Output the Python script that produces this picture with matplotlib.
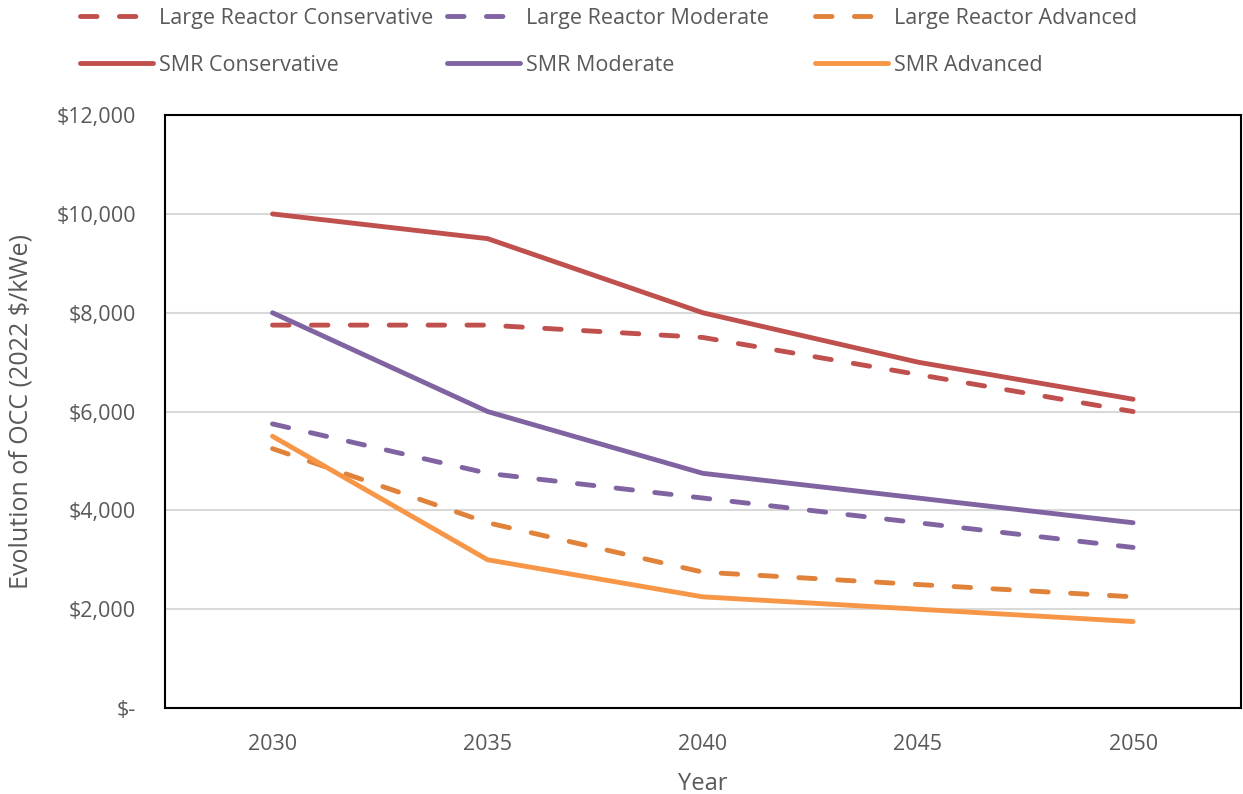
import matplotlib.pyplot as plt
from matplotlib.ticker import FuncFormatter

plt.rcParams['font.family'] = ['Open Sans', 'DejaVu Sans']

years = [2030, 2035, 2040, 2045, 2050]
lr_conservative = [7750, 7750, 7500, 6750, 6000]
lr_moderate = [5750, 4750, 4250, 3750, 3250]
lr_advanced = [5250, 3750, 2750, 2500, 2250]
smr_conservative = [10000, 9500, 8000, 7000, 6250]
smr_moderate = [8000, 6000, 4750, 4250, 3750]
smr_advanced = [5500, 3000, 2250, 2000, 1750]

red = "#C0504D"
purple = "#8064A2"
dark_orange = "#E0823A"
orange = "#F79646"
grey = "#595959"

fig = plt.figure(figsize=(12.43, 7.94), dpi=100)
ax = fig.add_axes([0.1327, 0.1083, 0.8654, 0.7467])

dash = (0, (3.4, 4.6))
lw = 3.5
kw = dict(lw=lw, dash_capstyle='round', solid_capstyle='round', solid_joinstyle='round')
l1, = ax.plot(years, lr_conservative, color=red, ls=dash, label="Large Reactor Conservative", **kw)
l2, = ax.plot(years, lr_moderate, color=purple, ls=dash, label="Large Reactor Moderate", **kw)
l3, = ax.plot(years, lr_advanced, color=dark_orange, ls=dash, label="Large Reactor Advanced", **kw)
l4, = ax.plot(years, smr_conservative, color=red, label="SMR Conservative", **kw)
l5, = ax.plot(years, smr_moderate, color=purple, label="SMR Moderate", **kw)
l6, = ax.plot(years, smr_advanced, color=orange, label="SMR Advanced", **kw)

ax.set_xlim(2027.5, 2052.5)
ax.set_ylim(0, 12000)
ax.set_xticks(years)
ax.set_yticks(range(0, 12001, 2000))
ax.yaxis.set_major_formatter(FuncFormatter(lambda v, p: "$-" if v == 0 else "${:,.0f}".format(v)))
ax.tick_params(length=0, labelsize=15.5, labelcolor=grey)
ax.tick_params(axis='y', pad=21)
ax.tick_params(axis='x', pad=19)
ax.grid(axis='y', color="#D9D9D9", lw=1.5)
ax.set_axisbelow(True)
for s in ax.spines.values():
    s.set_color("black")
    s.set_linewidth(1.5)

ax.set_ylabel("Evolution of OCC (2022 $/kWe)", fontsize=18, color=grey)
ax.yaxis.set_label_coords(-0.122, 0.5)
ax.set_xlabel("Year", fontsize=17, color=grey, labelpad=12)

# one legend per column so the columns sit where they do in the original
cols = [(l1, l4), (l2, l5), (l3, l6)]
xs = [80, 447, 815]
for (a, b), x in zip(cols, xs):
    fig.legend([a, b], [a.get_label(), b.get_label()], loc='upper left',
               bbox_to_anchor=(x / 1243, 1 - 8 / 794), frameon=False,
               fontsize=15.5, labelcolor=grey, handlelength=3.4, handletextpad=0.25,
               borderpad=0, borderaxespad=0, labelspacing=1.2)

fig.savefig("out.png", dpi=100)
